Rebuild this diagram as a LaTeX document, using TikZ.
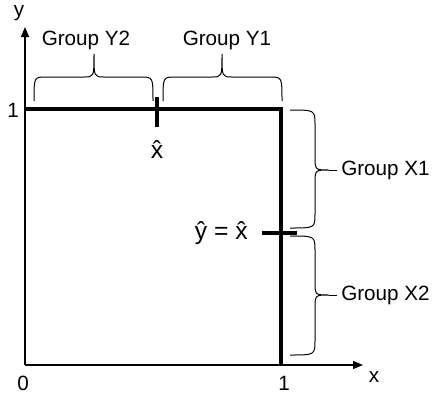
\documentclass[tikz,border=0pt]{standalone}
\usepackage{fontspec}
\setmainfont{Liberation Sans}
\usetikzlibrary{arrows.meta}
\begin{document}
\begin{tikzpicture}[x=0.75pt,y=-0.75pt,
  axis/.style={line width=1.1pt,-{Triangle[length=7.5pt,width=6pt]}},
  boldline/.style={line width=3pt,line join=miter},
  tickline/.style={line width=2.4pt},
  bracepath/.style={line width=0.75pt,line join=round},
  lbl/.style={font=\fontsize{15.5}{18}\selectfont,inner sep=0pt},
  biglbl/.style={font=\fontsize{18.5}{21}\selectfont,inner sep=0pt}]
\useasboundingbox (0,0) rectangle (432,394);
% axes
\coordinate (O) at (25,365);
\coordinate (Ytop) at (25,27);
\coordinate (Xend) at (363,365);
\draw[axis] (O) -- (Ytop);
\draw[axis] (O) -- (Xend);
% bold boundary
\coordinate (TL) at (25,109);
\coordinate (TR) at (281,109);
\coordinate (BR) at (281,365);
\draw[boldline] (TL) -- (TR) -- (BR);
% ticks
\coordinate (xt1) at (157,97);
\coordinate (xt2) at (157,127);
\draw[tickline] (xt1) -- (xt2);
\coordinate (yt1) at (262,233);
\coordinate (yt2) at (297,233);
\draw[tickline] (yt1) -- (yt2);
% axis labels
\node[lbl,anchor=base] (ylab) at (19,16) {y};
\node[lbl,anchor=base] (xlab) at (374,382) {x};
\node[lbl,anchor=base] (zero) at (23,390) {0};
\node[lbl,anchor=base] (onex) at (284,390) {1};
\node[lbl,anchor=base] (oney) at (13,117) {1};
\node[biglbl,anchor=base] (xhat) at (157,158) {x̂};
\node[biglbl,anchor=base east] (yhat) at (248,239) {ŷ = x̂};
% horizontal braces
\draw[bracepath] (34,101) .. controls (34,77) .. (46,77) -- (84,77)
  .. controls (94,77) .. (94,54) .. controls (94,77) .. (104,77)
  -- (141,77) .. controls (153,77) .. (153,101);
\draw[bracepath] (163,101) .. controls (163,77) .. (175,77) -- (212,77)
  .. controls (222,77) .. (222,54) .. controls (222,77) .. (232,77)
  -- (270,77) .. controls (282,77) .. (282,101);
\node[lbl,anchor=base] (gy2) at (86,45) {Group Y2};
\node[lbl,anchor=base] (gy1) at (227,45) {Group Y1};
% vertical braces
\coordinate (bx1) at (329,170);
\coordinate (bx2) at (329,295);
\draw[bracepath] (290,110) .. controls (315,110) .. (315,125) -- (315,156)
  .. controls (315,170) .. (bx1) .. controls (315,170) .. (315,184)
  -- (315,214) .. controls (315,228) .. (290,228);
\draw[bracepath] (290,236) .. controls (315,236) .. (315,251) -- (315,281)
  .. controls (315,295) .. (bx2) .. controls (315,295) .. (315,309)
  -- (315,340) .. controls (315,355) .. (290,355);
\node[lbl,anchor=west] (gx1) at (341,170) {Group X1};
\node[lbl,anchor=west] (gx2) at (341,295) {Group X2};
\draw[bracepath,shorten >=3pt] (bx1) -- (gx1.west);
\draw[bracepath,shorten >=3pt] (bx2) -- (gx2.west);
\end{tikzpicture}
\end{document}
